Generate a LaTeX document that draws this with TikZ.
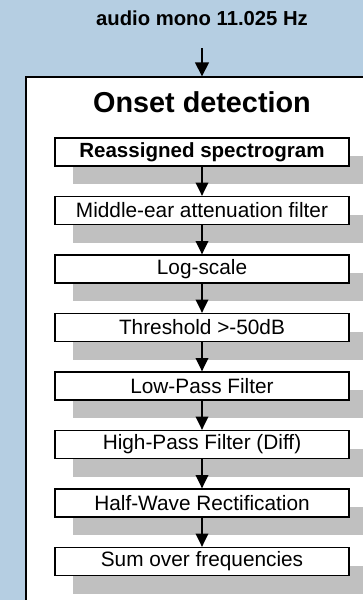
\documentclass[tikz,border=0pt]{standalone}
\usepackage{fontspec}
\setmainfont{Liberation Sans}
\usetikzlibrary{shapes,arrows.meta,positioning,calc,shadows}
\definecolor{bgblue}{HTML}{B5CEE2}
\definecolor{shadowgray}{HTML}{C0C0C0}

\begin{document}
\begin{tikzpicture}[x=0.75pt, y=-0.75pt,
    stage/.style={draw, fill=white, line width=1pt, minimum width=220.5pt, minimum height=21pt, inner sep=0pt,
        font=\fontsize{15.6}{18}\selectfont,
        drop shadow={shadow xshift=13.5pt, shadow yshift=-13.5pt, fill=shadowgray, opacity=1}},
    flow/.style={-{Triangle[width=9.5pt,length=10pt]}, line width=1pt}]
    % Background
    \useasboundingbox (0,0) rectangle (363,600);
    \fill[bgblue] (0,0) rectangle (363,600);

    % Panel
    \node[draw, fill=white, line width=1pt, minimum width=258pt, minimum height=399.75pt, inner sep=0pt] (panel) at (198,343.5) {};

    % Input
    \node[font=\bfseries\fontsize{15.2}{18}\selectfont, inner sep=0pt, anchor=base] (src) at (202,25) {audio mono 11.025 Hz};
    \draw[flow, -{Triangle[width=10.5pt,length=10.5pt]}, shorten <=17pt] (src.south) -- (src.south |- panel.north);

    % Title
    \node[font=\bfseries\fontsize{21.6}{26}\selectfont] (title) at (202,102) {Onset detection};

    % Stages
    \node[stage, font=\bfseries\fontsize{15.4}{18}\selectfont] (spec) at (202,152) {Reassigned spectrogram};
    \node[stage] (ear) at (202,210.5) {Middle-ear attenuation filter};
    \node[stage] (log) at (202,269) {Log-scale};
    \node[stage] (thr) at (202,327.5) {Threshold >-50dB};
    \node[stage] (lpf) at (202,386) {Low-Pass Filter};
    \node[stage] (hpf) at (202,444.5) {High-Pass Filter (Diff)};
    \node[stage] (hwr) at (202,503) {Half-Wave Rectification};
    \node[stage] (sum) at (202,561.5) {Sum over frequencies};

    % Arrows
    \draw[flow] (spec) -- (ear);
    \draw[flow] (ear) -- (log);
    \draw[flow] (log) -- (thr);
    \draw[flow] (thr) -- (lpf);
    \draw[flow] (lpf) -- (hpf);
    \draw[flow] (hpf) -- (hwr);
    \draw[flow] (hwr) -- (sum);
\end{tikzpicture}
\end{document}
